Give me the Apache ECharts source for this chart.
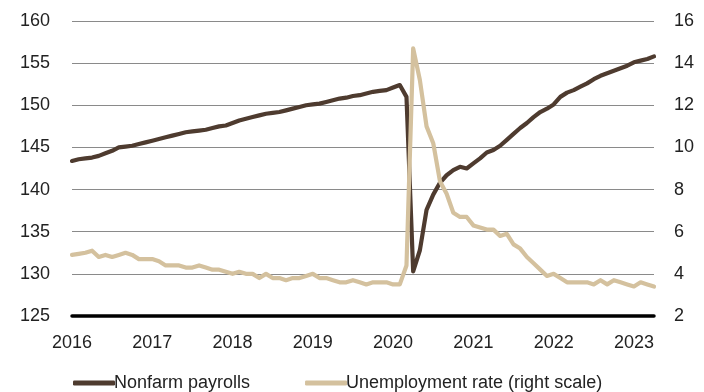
<!DOCTYPE html>
<html>
<head>
<meta charset="utf-8">
<script src="https://cdn.jsdelivr.net/npm/echarts@6/dist/echarts.min.js"></script>
<style>
html,body{margin:0;padding:0;background:#fff;}
#chart{width:704px;height:392px;}
</style>
</head>
<body>
<div id="chart"></div>
<script>
// Data: monthly, Jan 2016 - Apr 2023
const years = ['2016','2017','2018','2019','2020','2021','2022','2023'];
const monthsInLastYear = 4;

const payrolls2016 = [143.4,143.6,143.7,143.8,144.0,144.3,144.6,145.0,145.1,145.2,145.4,145.6];
const payrolls2017 = [145.8,146.0,146.2,146.4,146.6,146.8,146.9,147.0,147.1,147.3,147.5,147.6];
const payrolls2018 = [147.9,148.2,148.4,148.6,148.8,149.0,149.1,149.2,149.4,149.6,149.8,150.0];
const payrolls2019 = [150.1,150.2,150.4,150.6,150.8,150.9,151.1,151.2,151.4,151.6,151.7,151.8];
const payrolls2020 = [152.1,152.4,151.0,130.3,132.8,137.6,139.4,140.8,141.7,142.3,142.7,142.5];
const payrolls2021 = [143.1,143.7,144.4,144.7,145.2,145.9,146.6,147.3,147.9,148.6,149.2,149.6];
const payrolls2022 = [150.1,151.0,151.5,151.8,152.2,152.6,153.1,153.5,153.8,154.1,154.4,154.7];
const payrolls2023 = [155.1,155.3,155.5,155.8];

const unemp2016 = [4.9,4.95,5.0,5.1,4.8,4.9,4.8,4.9,5.0,4.9,4.7,4.7];
const unemp2017 = [4.7,4.6,4.4,4.4,4.4,4.3,4.3,4.4,4.3,4.2,4.2,4.1];
const unemp2018 = [4.0,4.1,4.0,4.0,3.8,4.0,3.8,3.8,3.7,3.8,3.8,3.9];
const unemp2019 = [4.0,3.8,3.8,3.7,3.6,3.6,3.7,3.6,3.5,3.6,3.6,3.6];
const unemp2020 = [3.5,3.5,4.4,14.7,13.2,11.0,10.2,8.4,7.8,6.9,6.7,6.7];
const unemp2021 = [6.3,6.2,6.1,6.1,5.8,5.9,5.4,5.2,4.8,4.5,4.2,3.9];
const unemp2022 = [4.0,3.8,3.6,3.6,3.6,3.6,3.5,3.7,3.5,3.7,3.6,3.5];
const unemp2023 = [3.4,3.6,3.5,3.4];

const leftTicks = {min:125, max:160, interval:5};
const rightTicks = {min:2, max:16, interval:2};
const seriesNames = ['Nonfarm payrolls','Unemployment rate (right scale)'];

const payrolls = [].concat(payrolls2016,payrolls2017,payrolls2018,payrolls2019,payrolls2020,payrolls2021,payrolls2022,payrolls2023);
const unemp = [].concat(unemp2016,unemp2017,unemp2018,unemp2019,unemp2020,unemp2021,unemp2022,unemp2023);

const categories = [];
years.forEach((y,yi)=>{
  const n = yi === years.length-1 ? monthsInLastYear : 12;
  for(let m=1;m<=n;m++){ categories.push(y+'-'+(m<10?'0'+m:m)); }
});

const font = 'Liberation Sans';
const textColor = '#222';
const chart = echarts.init(document.getElementById('chart'));
chart.setOption({
  animation:false,
  grid:{left:72,right:50,top:21,bottom:76,containLabel:false},
  legend:{
    left:68, top:369,
    itemWidth:42, itemHeight:5, itemGap:55,
    icon:'roundRect',
    textStyle:{fontFamily:font,fontSize:18,color:textColor,padding:[0,0,0,-6]},
    data:seriesNames
  },
  xAxis:{
    type:'category',
    data:categories,
    boundaryGap:false,
    axisLine:{show:true,onZero:false,lineStyle:{color:'#000',width:3.5}},
    axisTick:{show:false},
    axisLabel:{
      interval:(idx)=>idx%12===0,
      formatter:(v)=>v.slice(0,4),
      fontFamily:font,fontSize:18,color:textColor,margin:18
    },
    splitLine:{show:false}
  },
  yAxis:[
    {
      type:'value',min:leftTicks.min,max:leftTicks.max,interval:leftTicks.interval,
      axisLine:{show:false},axisTick:{show:false},
      axisLabel:{fontFamily:font,fontSize:18,color:textColor,margin:22},
      splitLine:{lineStyle:{color:'#8a8a8a',width:1}}
    },
    {
      type:'value',min:rightTicks.min,max:rightTicks.max,interval:rightTicks.interval,
      position:'right',
      axisLine:{show:false},axisTick:{show:false},
      axisLabel:{fontFamily:font,fontSize:18,color:textColor,margin:20},
      splitLine:{show:false}
    }
  ],
  series:[
    {
      name:seriesNames[0],type:'line',yAxisIndex:0,data:payrolls,
      symbol:'none',lineStyle:{color:'#4e3b2f',width:4.2,cap:'round',join:'round'},
      itemStyle:{color:'#4e3b2f'},z:2
    },
    {
      name:seriesNames[1],type:'line',yAxisIndex:1,data:unemp,
      symbol:'none',lineStyle:{color:'#d4c19e',width:4.2,cap:'round',join:'round'},
      itemStyle:{color:'#d4c19e'},z:3
    }
  ]
});
</script>
</body>
</html>
